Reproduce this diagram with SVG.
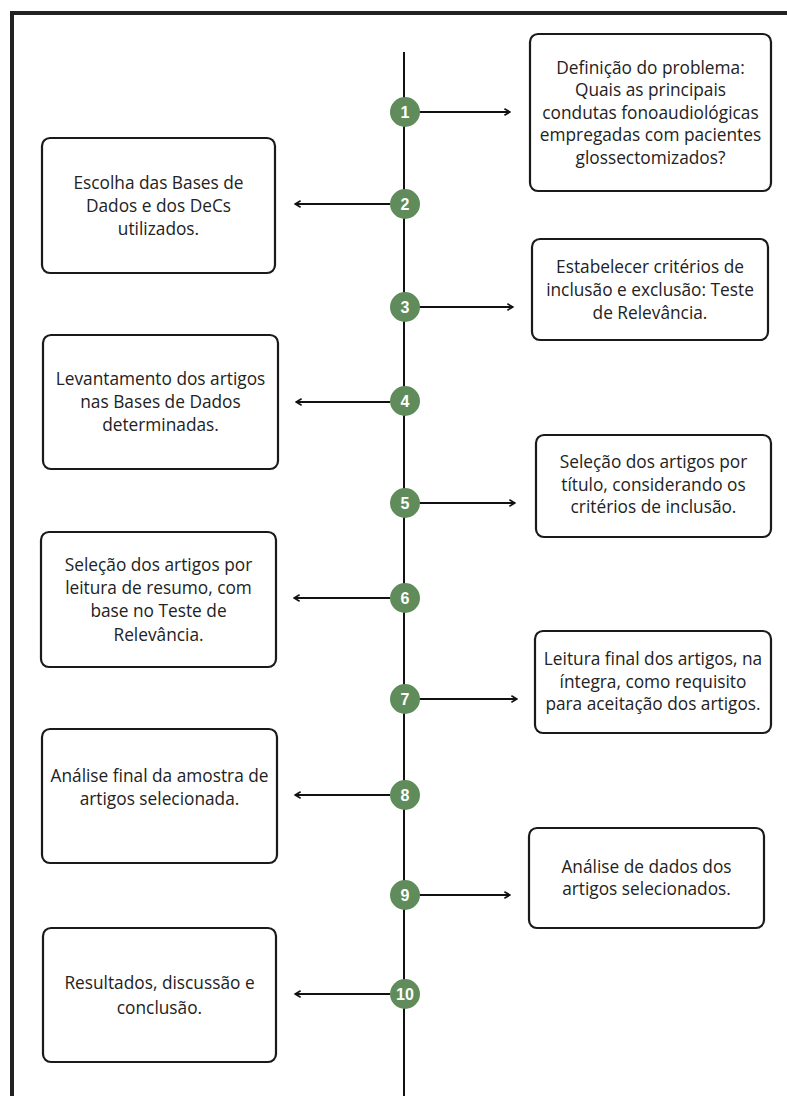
<svg xmlns="http://www.w3.org/2000/svg" width="787" height="1096" viewBox="0 0 787 1096">
<defs>
<marker id="ah" viewBox="0 0 10 10" refX="9" refY="5" markerWidth="8" markerHeight="8" markerUnits="userSpaceOnUse" orient="auto-start-reverse">
<path d="M2,1 L9,5 L2,9" fill="none" stroke="#111" stroke-width="2"/>
</marker>
<style>
.box{fill:#fff;stroke:#1a1a1a;stroke-width:2.2}
.t{font-family:"Open Sans","Noto Sans",sans-serif;font-size:17.3px;fill:#222;text-anchor:middle}
.c{fill:#5f8c5a}
.n{font-family:"Liberation Sans",Arial,sans-serif;font-size:16px;font-weight:bold;fill:#fff;text-anchor:middle}
.conn{stroke:#111;stroke-width:2;fill:none}
</style>
</defs>
<rect width="787" height="1096" fill="#fff"/>
<path d="M12,1100 V13 H792" fill="none" stroke="#222" stroke-width="4"/>
<g id="connectors">
<line class="conn" x1="404" y1="52" x2="404" y2="1096" stroke-width="2.4"/>
<line class="conn" x1="418" y1="112" x2="510" y2="112" marker-end="url(#ah)"/>
<line class="conn" x1="390" y1="204" x2="295" y2="204" marker-end="url(#ah)"/>
<line class="conn" x1="418" y1="307" x2="513" y2="307" marker-end="url(#ah)"/>
<line class="conn" x1="390" y1="402" x2="296" y2="402" marker-end="url(#ah)"/>
<line class="conn" x1="418" y1="503" x2="515" y2="503" marker-end="url(#ah)"/>
<line class="conn" x1="390" y1="598" x2="294" y2="598" marker-end="url(#ah)"/>
<line class="conn" x1="418" y1="699" x2="517" y2="699" marker-end="url(#ah)"/>
<line class="conn" x1="390" y1="795" x2="295" y2="795" marker-end="url(#ah)"/>
<line class="conn" x1="418" y1="895" x2="510" y2="895" marker-end="url(#ah)"/>
<line class="conn" x1="390" y1="994" x2="295" y2="994" marker-end="url(#ah)"/>
</g>
<g id="markers">
<g id="m1"><circle class="c" cx="405" cy="112" r="15"/><text class="n" x="405" y="118">1</text></g>
<g id="m2"><circle class="c" cx="405" cy="204" r="15"/><text class="n" x="405" y="210">2</text></g>
<g id="m3"><circle class="c" cx="405" cy="307" r="15"/><text class="n" x="405" y="313">3</text></g>
<g id="m4"><circle class="c" cx="405" cy="401" r="15"/><text class="n" x="405" y="407">4</text></g>
<g id="m5"><circle class="c" cx="405" cy="503" r="15"/><text class="n" x="405" y="509">5</text></g>
<g id="m6"><circle class="c" cx="405" cy="598" r="15"/><text class="n" x="405" y="604">6</text></g>
<g id="m7"><circle class="c" cx="405" cy="699" r="15"/><text class="n" x="405" y="705">7</text></g>
<g id="m8"><circle class="c" cx="405" cy="795" r="15"/><text class="n" x="405" y="801">8</text></g>
<g id="m9"><circle class="c" cx="405" cy="895" r="15"/><text class="n" x="405" y="901">9</text></g>
<g id="m10"><circle class="c" cx="405" cy="994" r="15"/><text class="n" x="405" y="1000">10</text></g>
</g>
<g id="n1"><rect class="box" x="530" y="34" width="241" height="157" rx="8"/>
<text class="t"><tspan x="650.5" y="73.5">Definição do problema:</tspan><tspan x="650.5" y="96">Quais as principais</tspan><tspan x="650.5" y="118.5">condutas fonoaudiológicas</tspan><tspan x="650.5" y="141">empregadas com pacientes</tspan><tspan x="650.5" y="163.5">glossectomizados?</tspan></text></g>
<g id="n2"><rect class="box" x="42" y="138" width="233" height="135" rx="8"/>
<text class="t"><tspan x="158.5" y="189">Escolha das Bases de</tspan><tspan x="158.5" y="212">Dados e dos DeCs</tspan><tspan x="158.5" y="235">utilizados.</tspan></text></g>
<g id="n3"><rect class="box" x="532" y="239" width="236" height="101" rx="8"/>
<text class="t"><tspan x="650" y="273">Estabelecer critérios de</tspan><tspan x="650" y="296">inclusão e exclusão: Teste</tspan><tspan x="650" y="319">de Relevância.</tspan></text></g>
<g id="n4"><rect class="box" x="43" y="335" width="235" height="134" rx="8"/>
<text class="t"><tspan x="160.5" y="385">Levantamento dos artigos</tspan><tspan x="160.5" y="408">nas Bases de Dados</tspan><tspan x="160.5" y="431">determinadas.</tspan></text></g>
<g id="n5"><rect class="box" x="536" y="435" width="235" height="102" rx="8"/>
<text class="t"><tspan x="653.5" y="468">Seleção dos artigos por</tspan><tspan x="653.5" y="490.5">título, considerando os</tspan><tspan x="653.5" y="513">critérios de inclusão.</tspan></text></g>
<g id="n6"><rect class="box" x="41" y="532" width="235" height="135" rx="8"/>
<text class="t"><tspan x="158.5" y="570.5">Seleção dos artigos por</tspan><tspan x="158.5" y="593.8">leitura de resumo, com</tspan><tspan x="158.5" y="617.1">base no Teste de</tspan><tspan x="158.5" y="640.5">Relevância.</tspan></text></g>
<g id="n7"><rect class="box" x="535" y="631" width="236" height="102" rx="8"/>
<text class="t"><tspan x="653" y="665">Leitura final dos artigos, na</tspan><tspan x="653" y="687.5">íntegra, como requisito</tspan><tspan x="653" y="710">para aceitação dos artigos.</tspan></text></g>
<g id="n8"><rect class="box" x="42" y="729" width="235" height="134" rx="8"/>
<text class="t"><tspan x="159.5" y="781.5">Análise final da amostra de</tspan><tspan x="159.5" y="805">artigos selecionada.</tspan></text></g>
<g id="n9"><rect class="box" x="529" y="828" width="235" height="100" rx="8"/>
<text class="t"><tspan x="646.5" y="873">Análise de dados dos</tspan><tspan x="646.5" y="894.5">artigos selecionados.</tspan></text></g>
<g id="n10"><rect class="box" x="43" y="928" width="233" height="134" rx="8"/>
<text class="t"><tspan x="159.5" y="989">Resultados, discussão e</tspan><tspan x="159.5" y="1013.5">conclusão.</tspan></text></g>
</svg>
